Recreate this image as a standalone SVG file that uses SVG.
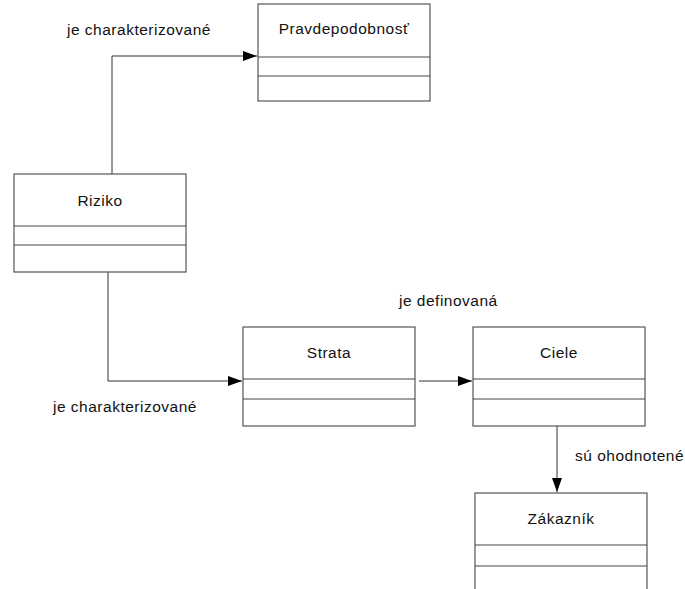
<svg xmlns="http://www.w3.org/2000/svg" width="685" height="589" viewBox="0 0 685 589">
<style>
.box{fill:#fff;stroke:#555;stroke-width:1.2}
.div{stroke:#444;stroke-width:1}
.t{font-family:"Liberation Sans",Arial,sans-serif;font-size:15.5px;fill:#111;letter-spacing:0.5px}
.c{stroke:#333;stroke-width:1;fill:none}
</style>
<defs>
<marker id="ah" markerWidth="14" markerHeight="10" refX="14" refY="5" orient="auto" markerUnits="userSpaceOnUse">
<path d="M0,0 L14,5 L0,10 z" fill="#000"/>
</marker>
</defs>
<rect width="685" height="589" fill="#fff"/>
<g id="connectors">
<path class="c" d="M112,174 V56 H257" marker-end="url(#ah)"/>
<path class="c" d="M108,272 V381 H242" marker-end="url(#ah)"/>
<path class="c" d="M419,381 H472" marker-end="url(#ah)"/>
<path class="c" d="M557,426 V492" marker-end="url(#ah)"/>
<text class="t" x="67" y="35">je charakterizované</text>
<text class="t" x="53" y="412">je charakterizované</text>
<text class="t" x="399" y="306">je definovaná</text>
<text class="t" x="575" y="461">sú ohodnotené</text>
</g>
<g id="pravdepodobnost">
<rect class="box" x="258" y="4" width="172" height="97"/>
<line class="div" x1="258" y1="57" x2="430" y2="57"/>
<line class="div" x1="258" y1="76" x2="430" y2="76"/>
<text class="t" x="344" y="34" text-anchor="middle">Pravdepodobnosť</text>
</g>
<g id="riziko">
<rect class="box" x="14" y="174" width="172" height="98"/>
<line class="div" x1="14" y1="226" x2="186" y2="226"/>
<line class="div" x1="14" y1="245" x2="186" y2="245"/>
<text class="t" x="100" y="206" text-anchor="middle">Riziko</text>
</g>
<g id="strata">
<rect class="box" x="243" y="327" width="172" height="99"/>
<line class="div" x1="243" y1="379" x2="415" y2="379"/>
<line class="div" x1="243" y1="399" x2="415" y2="399"/>
<text class="t" x="329" y="358" text-anchor="middle">Strata</text>
</g>
<g id="ciele">
<rect class="box" x="473" y="327" width="172" height="99"/>
<line class="div" x1="473" y1="379" x2="645" y2="379"/>
<line class="div" x1="473" y1="399" x2="645" y2="399"/>
<text class="t" x="559" y="358" text-anchor="middle">Ciele</text>
</g>
<g id="zakaznik">
<rect class="box" x="475" y="493" width="172" height="100"/>
<line class="div" x1="475" y1="545" x2="647" y2="545"/>
<line class="div" x1="475" y1="566" x2="647" y2="566"/>
<text class="t" x="561" y="524" text-anchor="middle">Zákazník</text>
</g>
</svg>
